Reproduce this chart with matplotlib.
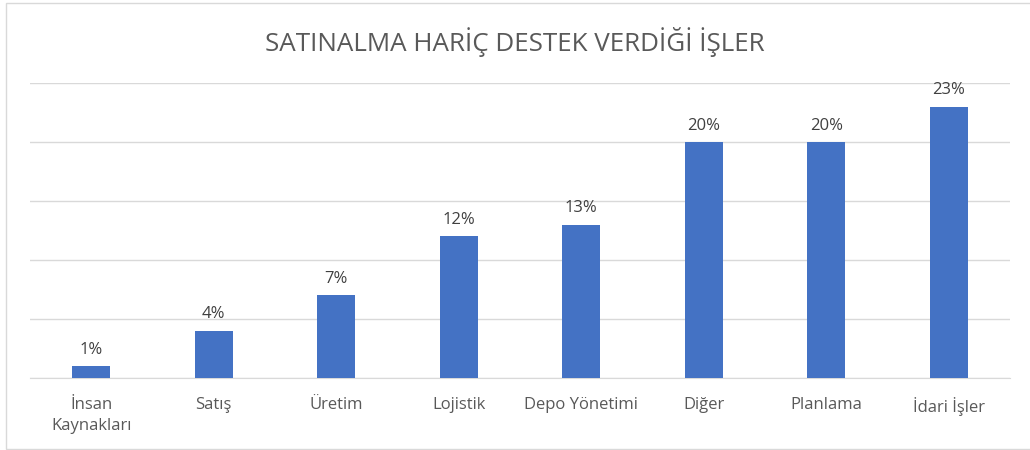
import matplotlib
matplotlib.use("Agg")
import matplotlib.pyplot as plt
from matplotlib.patches import Rectangle

categories = ["İnsan\nKaynakları", "Satış", "Üretim", "Lojistik", "Depo Yönetimi",
              "Diğer", "Planlama", "İdari İşler"]
values = [1, 4, 7, 12, 13, 20, 20, 23]
labels = ["1%", "4%", "7%", "12%", "13%", "20%", "20%", "23%"]
title = "SATINALMA HARİÇ DESTEK VERDİĞİ İŞLER"

plt.rcParams['font.family'] = ['Open Sans', 'DejaVu Sans']

W, H = 1030, 450
fig = plt.figure(figsize=(W / 100, H / 100), dpi=100)
ax = fig.add_axes([30 / W, 1 - 378 / H, 980 / W, 295 / H])

x = range(len(categories))
bars = ax.bar(x, values, width=0.31, color="#4472C4", zorder=3)
for b, lab in zip(bars, labels):
    ax.annotate(lab, (b.get_x() + b.get_width() / 2, b.get_height()),
                xytext=(0, 6), textcoords="offset points", ha="center", va="bottom",
                fontsize=12, color="#404040")

ax.set_xlim(-0.5, len(categories) - 0.5)
ax.set_ylim(0, 25)
ax.set_yticks([0, 5, 10, 15, 20, 25])
ax.yaxis.grid(True, color="#D9D9D9", linewidth=1)
ax.tick_params(axis="y", left=False, labelleft=False)
ax.set_xticks(list(x))
ax.set_xticklabels(categories, fontsize=12, color="#595959", linespacing=1.35)
ax.tick_params(axis="x", length=0, pad=14)
for s in ["top", "right", "left"]:
    ax.spines[s].set_visible(False)
ax.spines["bottom"].set_color("#D9D9D9")
ax.set_axisbelow(True)

fig.text(0.5, 1 - 42 / H, title, ha="center", va="center", fontsize=18.7, color="#595959")

fig.patches.append(Rectangle((6 / W, 1 / H), 1.2, 1 - 4 / H, transform=fig.transFigure,
                             fill=False, edgecolor="#D9D9D9", linewidth=1))

fig.savefig("out.png", dpi=100)
